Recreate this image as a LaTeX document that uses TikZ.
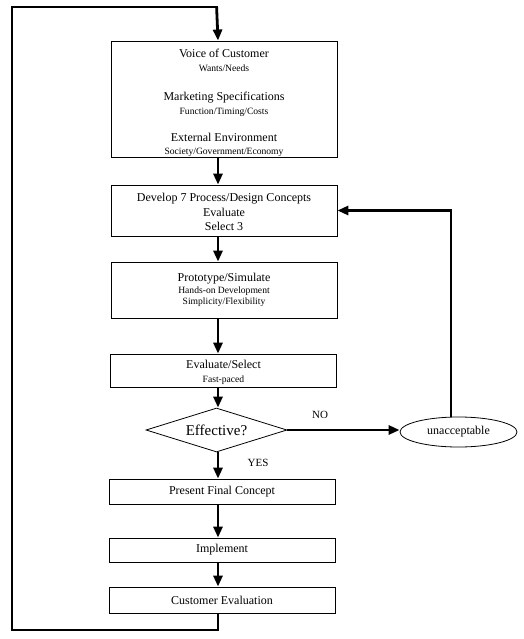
\documentclass[tikz,border=0pt]{standalone}
\usepackage{fontspec}
\setmainfont{Liberation Serif}
\usetikzlibrary{arrows.meta,shapes.geometric}

\newcommand{\bigtxt}{\fontsize{12}{14}\selectfont}
\newcommand{\smalltxt}{\fontsize{9.6}{11}\selectfont}

\tikzset{
  box/.style={draw, line width=0.8pt, minimum width=226pt, inner sep=0pt, align=center, font=\bigtxt},
  flow/.style={line width=2.8pt, -{Triangle[length=11pt,width=9pt]}},
  loopline/.style={line width=2.8pt},
}

\begin{document}
\begin{tikzpicture}[x=1pt, y=-1pt]
  \useasboundingbox (0,0) rectangle (523,639);
  \coordinate (col) at (218,0);
  \coordinate (rx) at (451,0);
  \node[box, minimum height=114pt] (voc) at (224,99) {\rule{0pt}{17pt}Voice of Customer\\{\smalltxt Wants/Needs}\\[15pt]
    Marketing Specifications\\{\smalltxt Function/Timing/Costs}\\[13pt]
    External Environment\\[-1pt]{\smalltxt Society/Government/Economy}};
  \node[box, minimum height=51pt] (dev) at (224,210.5) {\rule{0pt}{12pt}Develop 7 Process/Design Concepts\\[0.5pt]Evaluate\\[0.5pt]Select 3};
  \node[box, minimum height=56pt] (proto) at (224,290) {Prototype/Simulate\\[-2pt]{\smalltxt Hands-on Development}\\[-3pt]{\smalltxt Simplicity/Flexibility}};
  \node[box, minimum height=33pt] (evsel) at (223.5,370.5) {\rule{0pt}{13pt}Evaluate/Select\\{\smalltxt Fast-paced}};
  \node[draw, shape=diamond, line width=0.8pt, minimum width=141pt, minimum height=44pt, inner sep=0pt, aspect=3.2,
    font=\fontsize{15}{17}\selectfont] (eff) at (216.5,430) {Effective?};
  \node[box, minimum height=25pt] (pres) at (222,491.5) {Present Final Concept};
  \node[box, minimum height=24pt] (impl) at (222,550) {Implement};
  \node[box, minimum height=26pt] (cust) at (222,600) {Customer Evaluation};
  \node[draw, ellipse, line width=0.8pt, minimum width=117pt, minimum height=30pt, inner sep=0pt, font=\bigtxt] (unacc) at (458.5,432) {unacceptable};
  \node[font=\fontsize{11}{13}\selectfont] (no) at (320,415) {NO};
  \node[font=\fontsize{11}{13}\selectfont] (yes) at (258,463) {YES};

  % main column
  \draw[flow] (voc.south -| col) -- (dev.north -| col);
  \draw[flow] (dev.south -| col) -- (proto.north -| col);
  \draw[flow] (proto.south -| col) -- (evsel.north -| col);
  \draw[flow] (evsel.south -| col) -- (eff.north -| col);
  \draw[flow] (eff.south -| col) -- (pres.north -| col);
  \draw[flow] (pres.south -| col) -- (impl.north -| col);
  \draw[flow] (impl.south -| col) -- (cust.north -| col);

  % NO branch back to the concepts
  \draw[flow] (eff.east) -- (eff.east -| unacc.west);
  \draw[flow] (unacc.north -| rx) -- (rx |- dev.east) -- (dev.east);

  % outer loop
  \coordinate (bl) at (12,630);
  \coordinate (tl) at (12,7);
  \draw[loopline] (cust.south -| col) -- (col |- bl) -- (bl) -- (tl) -- (col |- tl);
  \draw[flow] ([xshift=-1.4pt]col |- tl) -- (voc.north -| col);
\end{tikzpicture}
\end{document}
